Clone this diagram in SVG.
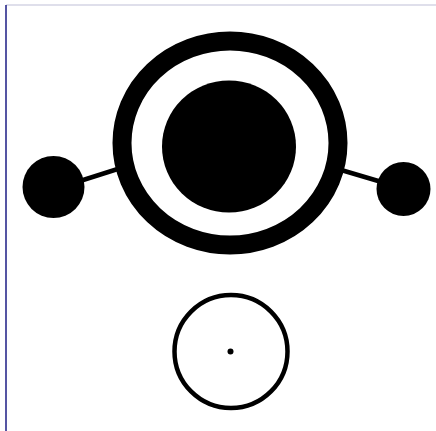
<svg xmlns="http://www.w3.org/2000/svg" width="436" height="431" viewBox="0 0 436 431">
<style>
.frame-top{stroke:#d4d4e4;stroke-width:1.5}
.frame-left{stroke:#1c1c84;stroke-width:1.5}
.conn{stroke:#000;stroke-width:4.5;stroke-linecap:butt}
.fill{fill:#000}
.ring{fill:none;stroke:#000}
</style>
<rect width="436" height="431" fill="#fff"/>
<line class="frame-top" x1="6" y1="5" x2="436" y2="5"/>
<line class="frame-left" x1="6" y1="5" x2="6" y2="431"/>
<g id="connectors">
<line class="conn" x1="80" y1="181" x2="124" y2="167"/>
<line class="conn" x1="331" y1="167" x2="385" y2="183"/>
</g>
<g id="main">
<ellipse class="ring" cx="230" cy="143" rx="108" ry="102" stroke-width="19"/>
<ellipse class="fill" cx="229" cy="146.5" rx="67" ry="66"/>
</g>
<g id="left-node">
<circle class="fill" cx="53.5" cy="187" r="31"/>
</g>
<g id="right-node">
<circle class="fill" cx="403.5" cy="189" r="27"/>
</g>
<g id="bottom-node">
<circle class="ring" cx="231" cy="351.5" r="56.5" stroke-width="4.5"/>
<circle class="fill" cx="230.5" cy="351.5" r="3"/>
</g>
</svg>
